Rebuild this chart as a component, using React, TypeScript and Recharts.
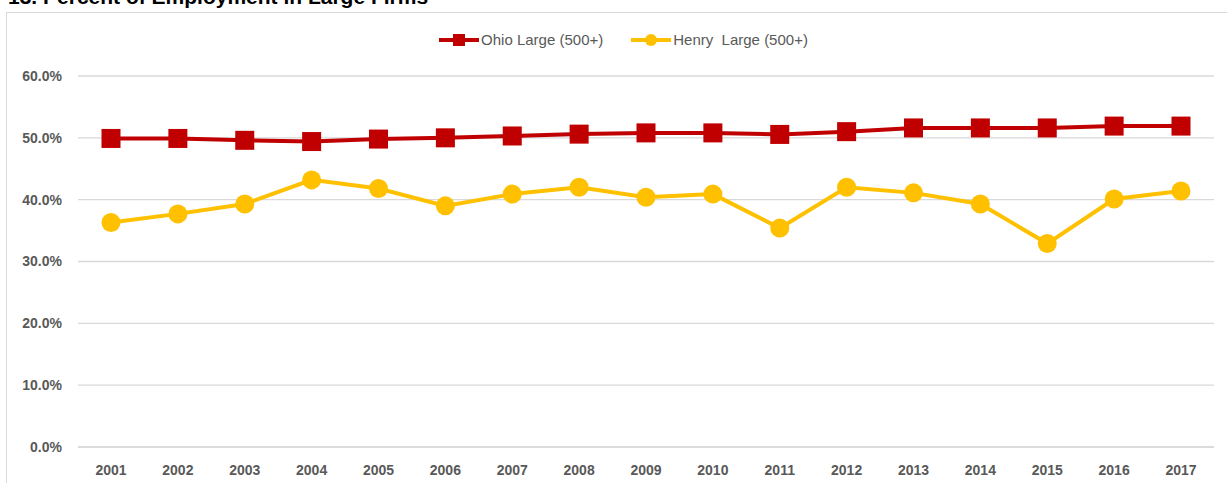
import React from "react";
import { LineChart, Line, XAxis, YAxis, CartesianGrid } from "recharts";

const years = [
  "2001", "2002", "2003", "2004", "2005", "2006", "2007", "2008", "2009",
  "2010", "2011", "2012", "2013", "2014", "2015", "2016", "2017",
];
const ohioLarge = [
  49.9, 49.9, 49.6, 49.4, 49.8, 50.0, 50.3, 50.6, 50.8, 50.8, 50.55, 51.0,
  51.6, 51.6, 51.6, 51.9, 51.9,
];
const henryLarge = [
  36.3, 37.7, 39.3, 43.2, 41.8, 39.0, 40.9, 42.0, 40.4, 40.9, 35.4, 42.0,
  41.1, 39.3, 32.9, 40.1, 41.4,
];
const yTicks = [0, 10, 20, 30, 40, 50, 60];

const RED = "#C00000";
const GOLD = "#FFC000";
const TEXT = "#595959";
const GRID = "#D9D9D9";
const FONT = "'Liberation Sans', Arial, sans-serif";

const data = years.map((year, i) => ({
  year,
  ohio: ohioLarge[i],
  henry: henryLarge[i],
}));

// square marker for the Ohio series
const SquareDot = (props: any) => {
  const { cx, cy, index } = props;
  if (cx == null || cy == null) return <g key={`sq-${index}`} />;
  return (
    <rect key={`sq-${index}`} x={cx - 9.5} y={cy - 9.5} width={19} height={19} fill={RED} />
  );
};

function LegendItem({ color, square, label }: { color: string; square: boolean; label: string }) {
  return (
    <div style={{ display: "flex", alignItems: "center", marginRight: 28 }}>
      <svg width={40} height={14} style={{ marginRight: 2 }}>
        <line x1={0} y1={7} x2={40} y2={7} stroke={color} strokeWidth={4} />
        {square ? (
          <rect x={14} y={1} width={12} height={12} fill={color} />
        ) : (
          <circle cx={20} cy={7} r={6} fill={color} />
        )}
      </svg>
      <span style={{ whiteSpace: "pre" }}>{label}</span>
    </div>
  );
}

export default function App() {
  return (
    <div
      style={{
        position: "absolute",
        left: 0,
        top: 0,
        width: 1227,
        height: 483,
        overflow: "hidden",
        background: "#fff",
        fontFamily: FONT,
      }}
    >
      <div
        style={{
          position: "absolute",
          left: 8,
          top: -15,
          fontSize: 21,
          fontWeight: "bold",
          color: "#000",
          whiteSpace: "nowrap",
        }}
      >
        13. Percent of Employment in Large Firms
      </div>
      <div
        style={{
          position: "absolute",
          left: 6,
          top: 12,
          width: 1240,
          height: 500,
          border: `1px solid ${GRID}`,
        }}
      />
      <div
        style={{
          position: "absolute",
          left: 0,
          top: 31,
          width: 1227,
          display: "flex",
          justifyContent: "center",
          paddingLeft: 48,
          boxSizing: "border-box",
          fontSize: 15,
          color: TEXT,
        }}
      >
        <LegendItem color={RED} square label="Ohio Large (500+)" />
        <LegendItem color={GOLD} square={false} label="Henry  Large (500+)" />
      </div>
      <div style={{ position: "absolute", left: 0, top: 0 }}>
        <LineChart
          width={1227}
          height={483}
          data={data}
          margin={{ top: 76, right: 13, bottom: 6, left: 0 }}
        >
          <CartesianGrid vertical={false} stroke={GRID} strokeWidth={1.3} />
          <XAxis
            dataKey="year"
            padding={{ left: 33, right: 33 }}
            axisLine={{ stroke: GRID, strokeWidth: 1.3 }}
            tickLine={false}
            tickMargin={12}
            tick={{ fill: TEXT, fontSize: 14, fontWeight: "bold", fontFamily: FONT }}
            interval={0}
          />
          <YAxis
            width={78}
            domain={[0, 60]}
            ticks={yTicks}
            axisLine={false}
            tickLine={false}
            tickMargin={10}
            tick={{ fill: TEXT, fontSize: 14, fontWeight: "bold", fontFamily: FONT }}
            tickFormatter={(v: number) => `${v.toFixed(1)}%`}
          />
          <Line
            type="linear"
            dataKey="henry"
            stroke={GOLD}
            strokeWidth={4}
            dot={{ r: 9.5, fill: GOLD, stroke: "none" }}
            activeDot={false}
            isAnimationActive={false}
          />
          <Line
            type="linear"
            dataKey="ohio"
            stroke={RED}
            strokeWidth={4}
            dot={SquareDot}
            activeDot={false}
            isAnimationActive={false}
          />
        </LineChart>
      </div>
    </div>
  );
}
